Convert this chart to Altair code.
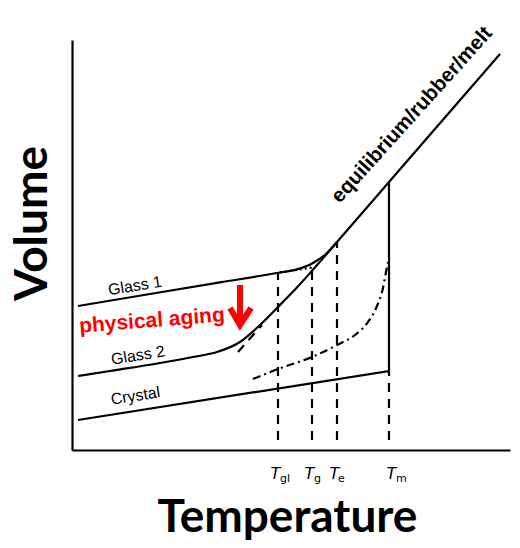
import altair as alt
import pandas as pd

# ---------------- data (arbitrary units: temperature x, volume y) ----------------
glass1_x = [3, 39, 74, 102.5, 112.5, 120.5, 127, 132.5]
glass1_y = [73, 79, 84.8, 89.5, 91.3, 94.5, 99, 105]

glass2_x = [3, 19, 44, 60.5, 72.5, 84, 94, 102.5, 111.5, 120, 132.5, 158.5, 214]
glass2_y = [38, 40.5, 44.5, 47.5, 50, 55, 63.5, 72, 81.2, 90.6, 105, 135, 199]

crystal_x = [3, 158.5, 158.5]
crystal_y = [16, 40.5, 135]

dashdot_x = [90.5, 103, 120, 132.5, 141.5, 148, 152.5, 155.5, 157, 158]
dashdot_y = [36.5, 41.5, 47.5, 53.5, 58.5, 65, 73, 82, 90, 95]

dotted_x = [104, 120.5]
dotted_y = [89.8, 92.3]

extension_x = [83, 95]
extension_y = [50, 63.5]

# characteristic temperatures
temp_names = ["gl", "g", "e", "m"]
temp_x = [103, 120, 132.5, 158.5]
temp_top = [89.5, 91, 105, 40.5]
temp_bottom = 6
temp_label_x = [101.75, 118.75, 131.25, 159.75]
temp_sub_x = [104, 121, 133, 162]

# physical aging arrow
arrow_shaft_x = [84, 84]
arrow_shaft_y = [83.5, 64]
arrow_head_x = [79, 84, 89.5]
arrow_head_y = [72, 63.5, 72]

# text labels
curve_labels = ["Glass 1", "Glass 2", "Crystal"]
curve_label_x = [31.5, 33, 31.75]
curve_label_y = [83, 48.25, 28]

X_DOMAIN = [0, 219]
Y_DOMAIN = [1, 206]

# ---------------- helpers ----------------
axis = alt.Axis(title=None, labels=False, ticks=False, grid=False, domain=True,
                domainColor="black", domainWidth=2.2)
xs = alt.Scale(domain=X_DOMAIN, nice=False, zero=False)
ys = alt.Scale(domain=Y_DOMAIN, nice=False, zero=False)


def enc_x():
    return alt.X("x:Q", scale=xs, axis=axis)


def enc_y():
    return alt.Y("y:Q", scale=ys, axis=axis)


def series(name, xv, yv):
    return pd.DataFrame({"s": name, "x": xv, "y": yv, "o": list(range(len(xv)))})


curves = pd.concat([series("glass1", glass1_x, glass1_y),
                    series("glass2", glass2_x, glass2_y)])
crystal = series("crystal", crystal_x, crystal_y)
dashdot = series("dashdot", dashdot_x, dashdot_y)
dotted = series("dotted", dotted_x, dotted_y)
dashed = pd.concat([series("ext", extension_x, extension_y)] +
                   [series("T" + n, [tx, tx], [temp_bottom, tt])
                    for n, tx, tt in zip(temp_names, temp_x, temp_top)])
arrow = pd.concat([series("shaft", arrow_shaft_x, arrow_shaft_y),
                   series("head", arrow_head_x, arrow_head_y)])


def line_layer(df, **kw):
    return alt.Chart(df).mark_line(color="black", strokeWidth=2.2, **kw).encode(
        x=enc_x(), y=enc_y(), detail="s:N", order="o:Q")


l_curves = line_layer(curves, interpolate="monotone")
l_crystal = line_layer(crystal)
l_dashdot = line_layer(dashdot, interpolate="monotone", strokeDash=[8, 4, 2, 4])
l_dotted = line_layer(dotted, strokeDash=[2, 3])
l_dashed = line_layer(dashed, strokeDash=[9, 7])
l_arrow = alt.Chart(arrow).mark_line(color="#ff0000", strokeWidth=6, strokeJoin="miter",
                                     strokeCap="butt").encode(
    x=enc_x(), y=enc_y(), detail="s:N", order="o:Q")

# curve labels
lab_df = pd.DataFrame({"t": curve_labels, "x": curve_label_x, "y": curve_label_y})
t_labels = alt.Chart(lab_df).mark_text(font="Liberation Sans", fontSize=16, angle=351,
                                       align="center", baseline="middle", color="black").encode(
    x=enc_x(), y=enc_y(), text="t:N")

aging_df = pd.DataFrame({"t": ["physical aging"], "x": [40], "y": [65.5]})
t_aging = alt.Chart(aging_df).mark_text(font="Liberation Sans", fontSize=21, fontWeight="bold",
                                        angle=355.5, align="center", baseline="middle",
                                        color="#ff0000").encode(
    x=enc_x(), y=enc_y(), text="t:N")

eq_df = pd.DataFrame({"t": ["equilibrium/rubber/melt"], "x": [170], "y": [168.5]})
t_eq = alt.Chart(eq_df).mark_text(font="Liberation Sans", fontSize=20.5, fontWeight="bold",
                                  angle=312, align="center", baseline="middle",
                                  color="black").encode(
    x=enc_x(), y=enc_y(), text="t:N")

T_df = pd.DataFrame({"t": ["T"] * 4, "x": temp_label_x, "y": [-13.5] * 4})
t_T = alt.Chart(T_df).mark_text(font="DejaVu Sans", fontSize=16, fontStyle="italic",
                                align="center", baseline="alphabetic", color="black").encode(
    x=enc_x(), y=enc_y(), text="t:N")
sub_df = pd.DataFrame({"t": temp_names, "x": temp_sub_x, "y": [-15] * 4})
t_sub = alt.Chart(sub_df).mark_text(font="DejaVu Sans", fontSize=11,
                                    align="left", baseline="alphabetic", color="black").encode(
    x=enc_x(), y=enc_y(), text="t:N")

temp_title_df = pd.DataFrame({"t": ["Temperature"], "x": [107.75], "y": [-40]})
t_temp = alt.Chart(temp_title_df).mark_text(font="Lato", fontSize=46, fontWeight="bold",
                                            align="center", baseline="alphabetic",
                                            color="black").encode(
    x=enc_x(), y=enc_y(), text="t:N")
vol_title_df = pd.DataFrame({"t": ["Volume"], "x": [-12.5], "y": [114.25]})
t_vol = alt.Chart(vol_title_df).mark_text(font="Lato", fontSize=46, fontWeight="bold",
                                          angle=270, align="center", baseline="alphabetic",
                                          color="black").encode(
    x=enc_x(), y=enc_y(), text="t:N")

chart = alt.layer(
    l_dashed, l_dotted, l_dashdot, l_crystal, l_curves, l_arrow,
    t_labels, t_aging, t_eq, t_T, t_sub, t_temp, t_vol
).properties(
    width=438, height=410,
    autosize=alt.AutoSizeParams(type="none"),
    padding={"left": 64, "top": 32, "right": 2, "bottom": 98},
    background="white",
).configure_view(stroke=None)

chart.save("out.html", embed_options={"renderer": "svg", "actions": False})
